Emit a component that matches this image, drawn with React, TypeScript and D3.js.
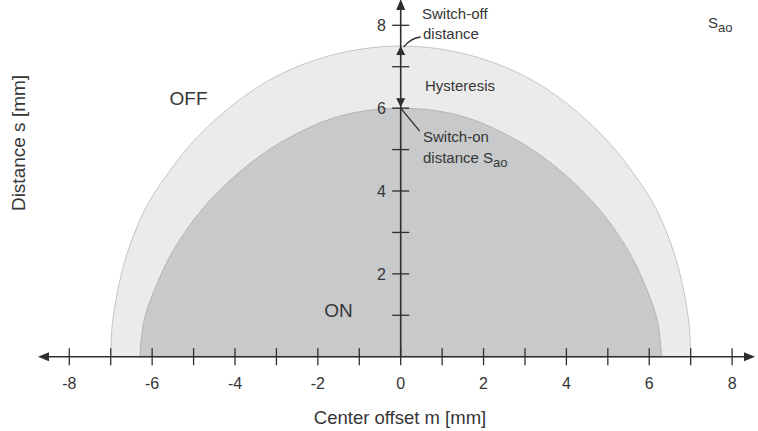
import React from "react";
import * as d3 from "d3";

const W = 758;
const H = 431;

// x ticks (center offset m, mm) and y ticks (distance s, mm)
const xTicks = [-8, -7, -6, -5, -4, -3, -2, -1, 0, 1, 2, 3, 4, 5, 6, 7, 8];
const xTickLabels = [-8, -6, -4, -2, 0, 2, 4, 6, 8];
const yTicks = [1, 2, 3, 4, 5, 6, 7, 8];
const yTickLabels = [2, 4, 6, 8];

// Switch-off boundary (outer, hysteresis zone edge)
const offM = [-7.0, -6.97, -6.85, -6.6, -6.15, -5.6, -5.0, -4.0, -2.9, -1.5, 0, 1.5, 2.9, 4.0, 5.0, 5.6, 6.15, 6.6, 6.85, 6.97, 7.0];
const offS = [0, 0.7, 1.5, 2.5, 3.6, 4.45, 5.2, 6.12, 6.82, 7.32, 7.5, 7.32, 6.82, 6.12, 5.2, 4.45, 3.6, 2.5, 1.5, 0.7, 0];

// Switch-on boundary (inner, ON zone edge)
const onM = [-6.3, -6.2, -5.95, -5.5, -4.8, -3.9, -2.9, -1.5, 0, 1.5, 2.9, 3.9, 4.8, 5.5, 5.95, 6.2, 6.3];
const onS = [0, 0.85, 1.6, 2.55, 3.55, 4.45, 5.17, 5.8, 6.0, 5.8, 5.17, 4.45, 3.55, 2.55, 1.6, 0.85, 0];

const switchOffDistance = 7.5;
const switchOnDistance = 6.0;

const FONT = "'Liberation Sans', Arial, sans-serif";
const TXT = "#363636";
const AX = "#2e2e2e";

export default function App() {
  const x = d3.scaleLinear().domain([-8, 8]).range([69.3, 732.1]);
  const y = d3.scaleLinear().domain([0, 8]).range([356.7, 25.3]);

  const area = d3
    .line<[number, number]>()
    .x((d) => x(d[0]))
    .y((d) => y(d[1]))
    .curve(d3.curveCatmullRom.alpha(0.5));

  const offPts: [number, number][] = offM.map((m, i) => [m, offS[i]]);
  const onPts: [number, number][] = onM.map((m, i) => [m, onS[i]]);
  const offPath = area(offPts) + "Z";
  const onPath = area(onPts) + "Z";

  const y0 = y(0);
  const x0 = x(0);
  const tickLen = 8.5;

  const yOff = y(switchOffDistance);
  const yOn = y(switchOnDistance);

  return (
    <svg
      width={W}
      height={H}
      viewBox={`0 0 ${W} ${H}`}
      style={{ position: "absolute", left: 0, top: 0, background: "#fff" }}
      fontFamily={FONT}
    >
      <rect x={0} y={0} width={W} height={H} fill="#ffffff" />
      {/* zones */}
      <path d={offPath} fill="#ebebeb" stroke="#c4c4c4" strokeWidth={1} />
      <path d={onPath} fill="#c7c9cb" stroke="#b3b4b6" strokeWidth={1} />

      {/* x axis */}
      <line x1={44} x2={748} y1={y0} y2={y0} stroke={AX} strokeWidth={1.6} />
      <path d={`M${38},${y0} L${49},${y0 - 4.5} L${49},${y0 + 4.5} Z`} fill={AX} />
      <path d={`M${755},${y0} L${744},${y0 - 4.5} L${744},${y0 + 4.5} Z`} fill={AX} />
      {xTicks.map((t) => (
        <line key={"xt" + t} x1={x(t)} x2={x(t)} y1={y0 - tickLen} y2={y0 + tickLen} stroke={AX} strokeWidth={1.3} />
      ))}
      {xTickLabels.map((t) => (
        <text key={"xl" + t} x={x(t)} y={388.5} textAnchor="middle" fontSize={16} fill={TXT}>
          {t < 0 ? "-" + Math.abs(t) : String(t)}
        </text>
      ))}
      <text x={400} y={424} textAnchor="middle" fontSize={18.5} fill={TXT}>
        Center offset m [mm]
      </text>

      {/* y axis */}
      <line x1={x0} x2={x0} y1={y0} y2={6} stroke={AX} strokeWidth={1.6} />
      <path d={`M${x0},${-1} L${x0 - 4.5},${10} L${x0 + 4.5},${10} Z`} fill={AX} />
      {yTicks.map((t) => (
        <line key={"yt" + t} x1={x0 - tickLen} x2={x0 + tickLen} y1={y(t)} y2={y(t)} stroke={AX} strokeWidth={1.3} />
      ))}
      {yTickLabels.map((t) => (
        <text key={"yl" + t} x={386} y={y(t) + 6} textAnchor="end" fontSize={16} fill={TXT}>
          {t}
        </text>
      ))}
      <text
        transform={`translate(24.5,143) rotate(-90)`}
        textAnchor="middle"
        fontSize={19}
        fill={TXT}
      >
        Distance s [mm]
      </text>

      {/* hysteresis markers */}
      <path d={`M${x0},${yOff} L${x0 - 4.5},${yOff + 9} L${x0 + 4.5},${yOff + 9} Z`} fill={AX} />
      <path d={`M${x0},${yOn - 1} L${x0 - 4.5},${yOn - 10} L${x0 + 4.5},${yOn - 10} Z`} fill={AX} />
      <path d={`M${x0 + 3},${yOff + 1} Q${x0 + 10},${yOff - 8} ${x0 + 20},${yOff - 9}`} fill="none" stroke={AX} strokeWidth={1.3} />
      <line x1={x0} y1={yOn} x2={x0 + 19} y2={yOn + 23} stroke={AX} strokeWidth={1.3} />

      {/* annotations */}
      <text x={422} y={18.5} fontSize={15} fill={TXT}>Switch-off</text>
      <text x={423} y={39} fontSize={15} fill={TXT}>distance</text>
      <text x={425} y={90.5} fontSize={15} fill={TXT}>Hysteresis</text>
      <text x={423} y={141.5} fontSize={15} fill={TXT}>Switch-on</text>
      <text x={423} y={163} fontSize={15} fill={TXT}>
        distance S<tspan fontSize={13} dy={4}>ao</tspan>
      </text>
      <text x={708} y={28} fontSize={15} fill={TXT}>
        S<tspan fontSize={13} dy={4}>ao</tspan>
      </text>
      <text x={188.5} y={105} textAnchor="middle" fontSize={19} fill={TXT}>OFF</text>
      <text x={338.5} y={316.5} textAnchor="middle" fontSize={19} fill={TXT}>ON</text>
    </svg>
  );
}
